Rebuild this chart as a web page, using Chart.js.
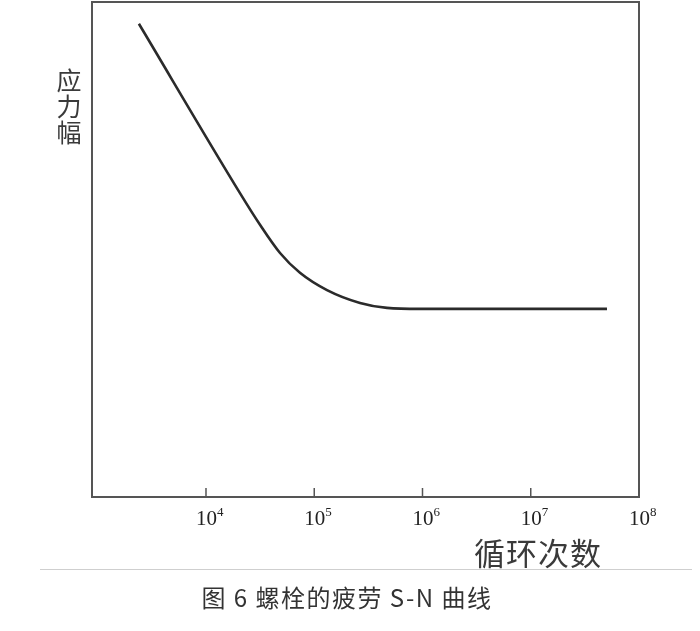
<!DOCTYPE html>
<html>
<head>
<meta charset="utf-8">
<script src="https://cdn.jsdelivr.net/npm/chart.js@4/dist/chart.umd.min.js"></script>
<style>
  body { margin: 0; background: #fff; }
  #wrap { position: relative; width: 700px; height: 631px; }
  #sn-chart { position: absolute; left: 0; top: 0; }
  .lbl { position: absolute; font-family: "Noto Sans CJK SC", sans-serif; color: #3a3a3a; }
  #ylab { left: 55px; top: 66px; font-size: 25px; line-height: 26px; width: 28px; text-align: center; }
  #xlab { left: 474px; top: 529px; font-size: 31px; letter-spacing: 1px; }
  #sep { position: absolute; left: 40px; top: 569px; width: 652px; height: 1px; background: #cfcfcf; }
  #caption { left: 0; width: 694px; top: 579px; font-size: 24px; letter-spacing: 1.5px; text-align: center; color: #333; }
</style>
</head>
<body>
<div id="wrap">
  <canvas id="sn-chart" width="700" height="631"></canvas>
  <div class="lbl" id="ylab">应<br>力<br>幅</div>
  <div class="lbl" id="xlab">循环次数</div>
  <div id="sep"></div>
  <div class="lbl" id="caption">图 6 螺栓的疲劳 S-N 曲线</div>
</div>
<script>
// cycles (N) and stress amplitude (relative units, axis has no numbers)
var cycles = [2400, 20600, 31550, 48300, 73800, 131200, 264800, 470000, 948000, 50600000];
var stress = [95.6, 61.4, 55.0, 49.3, 45.3, 41.8, 39.2, 38.2, 38.0, 38.0];
var tickExponents = [4, 5, 6, 7, 8];

var framePlugin = {
  id: "frame",
  afterDraw: function (chart) {
    var ctx = chart.ctx;
    var a = chart.chartArea;
    var xs = chart.scales.x;
    ctx.save();
    ctx.strokeStyle = "#555";
    ctx.lineWidth = 2;
    ctx.strokeRect(a.left, a.top, a.right - a.left, a.bottom - a.top);
    tickExponents.forEach(function (e) {
      var px = xs.getPixelForValue(Math.pow(10, e));
      ctx.lineWidth = 1.5;
      ctx.beginPath();
      ctx.moveTo(px, a.bottom);
      ctx.lineTo(px, a.bottom - 9);
      ctx.stroke();
      ctx.fillStyle = "#222";
      ctx.textBaseline = "alphabetic";
      ctx.font = "21px 'Liberation Serif', serif";
      ctx.textAlign = "right";
      ctx.fillText("10", px + 11, a.bottom + 28);
      ctx.font = "13px 'Liberation Serif', serif";
      ctx.textAlign = "left";
      ctx.fillText(String(e), px + 11, a.bottom + 19);
    });
    ctx.restore();
  }
};

var config = {
  type: "line",
  data: {
    datasets: [
      {
        label: "S-N",
        data: cycles.map(function (n, i) { return { x: n, y: stress[i] }; }),
        borderColor: "#2b2b2b",
        borderWidth: 2.6,
        pointRadius: 0,
        fill: false,
        cubicInterpolationMode: "monotone"
      }
    ]
  },
  options: {
    responsive: false,
    animation: false,
    layout: { padding: { left: 92, right: 61, top: 2, bottom: 134 } },
    plugins: { legend: { display: false }, tooltip: { enabled: false } },
    scales: {
      x: { type: "logarithmic", min: 885, max: 1e8, display: false },
      y: { type: "linear", min: 0, max: 100, display: false }
    }
  },
  plugins: [framePlugin]
};

var ctx = document.getElementById("sn-chart").getContext("2d");
window.snChart = new Chart(ctx, config);
</script>
</body>
</html>
